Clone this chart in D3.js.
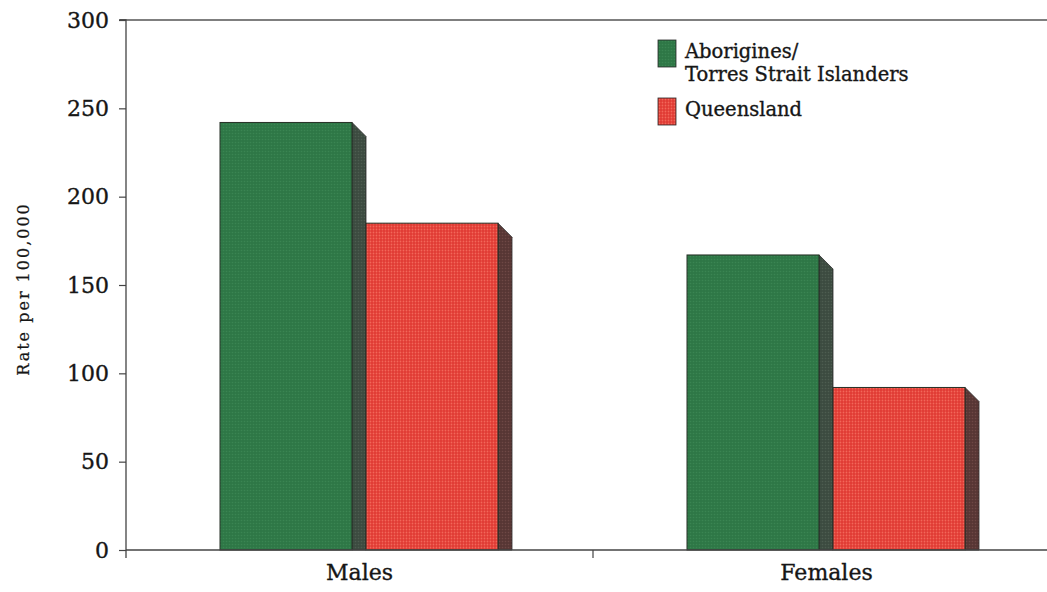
<!DOCTYPE html>
<html>
<head>
<meta charset="utf-8">
<script src="https://cdn.jsdelivr.net/npm/d3@7"></script>
<style>
  html, body { margin: 0; padding: 0; background: #ffffff; }
  svg { display: block; }
  text { font-family: "DejaVu Serif", "Liberation Serif", serif; fill: #161616; stroke: #161616; stroke-width: 0.35px; }
</style>
</head>
<body>
<svg id="chart" width="1047" height="592"></svg>
<script>
// Hospital separation rates by sex
const categories = ["Males", "Females"];
const seriesNames = ["Aborigines/Torres Strait Islanders", "Queensland"];
const indigenousRates = [242, 167];
const queenslandRates = [185, 92];
const yTicks = [0, 50, 100, 150, 200, 250, 300];
const legendLines = [["Aborigines/", "Torres Strait Islanders"], ["Queensland"]];

const svg = d3.select("#chart");
const W = 1047;
const plotLeft = 126, plotRight = 1060, plotTop = 20, plotBottom = 550;
const depth = 14;

const y = d3.scaleLinear().domain([0, 300]).range([plotBottom, plotTop]);
const x = d3.scaleBand().domain(categories).range([plotLeft, plotRight]).padding(0);
const xInner = d3.scaleBand().domain(seriesNames).range([94, 386]).padding(0);

// Textures: fine dot screens on the bar faces
const defs = svg.append("defs");
function dotPattern(id, base, dot, step, r) {
  const p = defs.append("pattern").attr("id", id)
    .attr("patternUnits", "userSpaceOnUse").attr("width", step).attr("height", step);
  p.append("rect").attr("width", step).attr("height", step).attr("fill", base);
  p.append("circle").attr("cx", step / 2).attr("cy", step / 2).attr("r", r).attr("fill", dot);
}
dotPattern("texGreen", "#2e7746", "#3a8552", 3, 0.8);
dotPattern("texRed", "#e03a33", "#f2675a", 3, 0.9);
dotPattern("sideGreen", "#3c4b40", "#4d5d50", 3, 0.8);
dotPattern("sideRed", "#573634", "#6e4845", 3, 0.8);
const fills = ["url(#texGreen)", "url(#texRed)"];
const sideFills = ["url(#sideGreen)", "url(#sideRed)"];

// Frame: top rule
svg.append("line").attr("x1", plotLeft - 6).attr("x2", W).attr("y1", plotTop).attr("y2", plotTop)
  .attr("stroke", "#555").attr("stroke-width", 1.3);

const rows = categories.map((c, i) => ({
  cat: c,
  values: [indigenousRates[i], queenslandRates[i]]
}));

const groups = svg.append("g").selectAll("g").data(rows).join("g")
  .attr("transform", d => `translate(${x(d.cat)},0)`);

groups.each(function(d) {
  const g = d3.select(this);
  d.values.forEach((v, s) => {
    const x0 = xInner(seriesNames[s]);
    const w = xInner.bandwidth() - depth;
    const yt = y(v);
    // side face with bevelled top corner
    g.append("path")
      .attr("d", `M${x0 + w},${yt} L${x0 + w + depth},${yt + depth} L${x0 + w + depth},${plotBottom} L${x0 + w},${plotBottom} Z`)
      .attr("fill", sideFills[s]).attr("stroke", "#2a2a2a").attr("stroke-width", 0.8);
    // front face
    g.append("rect")
      .attr("x", x0).attr("y", yt).attr("width", w).attr("height", plotBottom - yt)
      .attr("fill", fills[s]).attr("stroke", "#263026").attr("stroke-width", 1);
  });
});

// Y axis
const yAxis = d3.axisLeft(y).tickValues(yTicks).tickSize(7).tickPadding(10).tickFormat(d3.format("d"));
const ya = svg.append("g").attr("transform", `translate(${plotLeft},0)`).call(yAxis);
ya.select(".domain").attr("stroke", "#444").attr("stroke-width", 1.3).attr("d", `M-7,${plotTop}H0V${plotBottom + 8}`);
ya.selectAll(".tick line").attr("stroke", "#444").attr("stroke-width", 1.2);
ya.selectAll(".tick text").attr("font-size", 22).attr("font-family", "DejaVu Serif, serif").attr("fill", "#161616");

// X axis
const xa = svg.append("g").attr("transform", `translate(0,${plotBottom})`)
  .call(d3.axisBottom(x).tickSize(0).tickPadding(14));
xa.select(".domain").attr("stroke", "#444").attr("stroke-width", 1.6).attr("d", `M${plotLeft},0H${W}`);
xa.selectAll(".tick text").attr("font-size", 22).attr("font-family", "DejaVu Serif, serif").attr("fill", "#161616");
svg.append("line").attr("x1", x("Females")).attr("x2", x("Females"))
  .attr("y1", plotBottom).attr("y2", plotBottom + 8).attr("stroke", "#444").attr("stroke-width", 1.2);

// Y label
svg.append("text")
  .attr("transform", `translate(29,${(plotTop + plotBottom) / 2 + 4}) rotate(-90)`)
  .attr("text-anchor", "middle").attr("font-size", 16).attr("letter-spacing", 2)
  .style("stroke-width", "0.2px")
  .text("Rate per 100,000");

// Legend
const legend = svg.append("g").attr("transform", "translate(658,40)");
const legendY = [0, 58];
seriesNames.forEach((s, i) => {
  const lg = legend.append("g").attr("transform", `translate(0,${legendY[i]})`);
  lg.append("rect").attr("width", 18).attr("height", 27).attr("fill", fills[i])
    .attr("stroke", "#2a2a2a").attr("stroke-width", 0.8);
  legendLines[i].forEach((t, j) => {
    lg.append("text").attr("x", 27).attr("y", 18 + j * 23).attr("font-size", 19.5).text(t);
  });
});
</script>
</body>
</html>
